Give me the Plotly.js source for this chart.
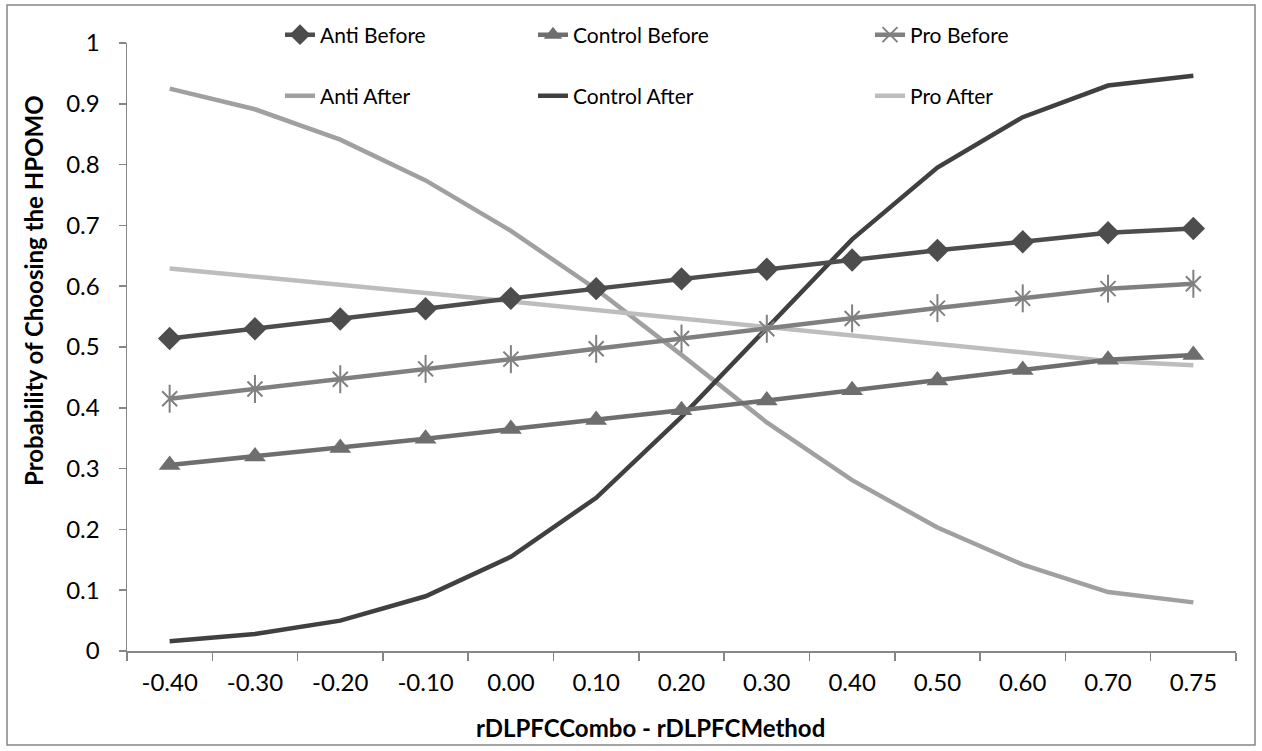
<!DOCTYPE html>
<html>
<head>
<meta charset="utf-8">
<script src="https://cdn.plot.ly/plotly-3.0.1.min.js"></script>
<style>html,body{margin:0;padding:0;background:#fff;}#chart{width:1262px;height:751px;}</style>
</head>
<body>
<div id="chart"></div>
<script>
const categories = ['-0.40','-0.30','-0.20','-0.10','0.00','0.10','0.20','0.30','0.40','0.50','0.60','0.70','0.75'];
const antiBefore    = [0.514,0.530,0.546,0.563,0.580,0.596,0.612,0.628,0.643,0.659,0.673,0.688,0.695];
const controlBefore = [0.306,0.320,0.334,0.349,0.365,0.380,0.396,0.412,0.429,0.445,0.462,0.479,0.487];
const proBefore     = [0.415,0.431,0.447,0.464,0.480,0.497,0.514,0.530,0.547,0.564,0.580,0.596,0.604];
const antiAfter     = [0.925,0.891,0.841,0.774,0.691,0.595,0.487,0.376,0.281,0.203,0.142,0.097,0.080];
const controlAfter  = [0.016,0.028,0.050,0.090,0.155,0.252,0.385,0.530,0.677,0.795,0.878,0.930,0.946];
const proAfter      = [0.629,0.616,0.603,0.589,0.575,0.561,0.547,0.533,0.519,0.505,0.491,0.477,0.470];
const seriesNames = ['Anti Before','Control Before','Pro Before','Anti After','Control After','Pro After'];
const xTitle = 'rDLPFCCombo - rDLPFCMethod';
const yTitle = 'Probability of Choosing the HPOMO';

const FONT = 'Lato, "Open Sans", sans-serif';
const traces = [
  {x: categories, y: antiAfter, name: seriesNames[3], mode: 'lines', line: {color: '#a0a0a0', width: 4.5}, legend: 'legend4'},
  {x: categories, y: controlAfter, name: seriesNames[4], mode: 'lines', line: {color: '#404040', width: 4.5}, legend: 'legend5'},
  {x: categories, y: proAfter, name: seriesNames[5], mode: 'lines', line: {color: '#bdbdbd', width: 4.5}, legend: 'legend6'},
  {x: categories, y: controlBefore, name: seriesNames[1], mode: 'lines+markers', line: {color: '#6e6e6e', width: 4.5},
   marker: {symbol: 'triangle-up', size: 19, color: '#6e6e6e'}, legend: 'legend2'},
  {x: categories, y: proBefore, name: seriesNames[2], mode: 'lines+markers', line: {color: '#808080', width: 4.5},
   marker: {symbol: 'x-thin-open', size: 15, color: '#808080', line: {color: '#808080', width: 2}}, legend: 'legend3'},
  {x: categories, y: proBefore, name: seriesNames[2], mode: 'markers', showlegend: false, hoverinfo: 'skip',
   marker: {symbol: 'line-ns-open', size: 20, color: '#808080', line: {color: '#808080', width: 2}}},
  {x: categories, y: antiBefore, name: seriesNames[0], mode: 'lines+markers', line: {color: '#4d4d4d', width: 4.5},
   marker: {symbol: 'diamond', size: 18, color: '#4d4d4d'}, legend: 'legend'}
];

const L = 127, W = 1109, T = 43, H = 608;
function lx(px){ return (px - L) / W; }
function ly(py){ return (T + H - py) / H; }
function leg(px, py){
  return {x: lx(px), y: ly(py), xanchor: 'left', yanchor: 'middle', orientation: 'h',
          bgcolor: 'rgba(0,0,0,0)', font: {family: FONT, size: 21, color: '#000'}, itemwidth: 30};
}

const layout = {
  width: 1262, height: 751,
  margin: {l: L, r: 1262 - L - W, t: T, b: 751 - T - H},
  paper_bgcolor: '#fff', plot_bgcolor: '#fff',
  font: {family: FONT, size: 21, color: '#000'},
  showlegend: true,
  legend: leg(280, 35), legend2: leg(533, 35), legend3: leg(870, 35),
  legend4: leg(280, 96), legend5: leg(533, 96), legend6: leg(870, 96),
  xaxis: {
    type: 'category', categoryorder: 'array', categoryarray: categories, range: [-0.5, 12.5],
    showline: true, linecolor: '#868686', linewidth: 1.5,
    ticks: 'outside', ticklen: 8, tickcolor: '#868686', tickwidth: 1.5, tickson: 'boundaries',
    ticklabelstandoff: 10,
    showgrid: false, zeroline: false,
    tickfont: {family: FONT, size: 24, color: '#000'}
  },
  yaxis: {
    range: [0, 1], dtick: 0.1, tick0: 0,
    showline: true, linecolor: '#868686', linewidth: 1.5,
    ticks: 'outside', ticklen: 7, tickcolor: '#868686', tickwidth: 1.5,
    ticklabelstandoff: 14,
    showgrid: false, zeroline: false,
    tickfont: {family: FONT, size: 24, color: '#000'}
  },
  annotations: [
    {text: '<b>' + xTitle + '</b>', xref: 'paper', yref: 'paper', x: lx(650), y: ly(727),
     xanchor: 'center', yanchor: 'middle', showarrow: false, font: {family: FONT, size: 24, color: '#000'}},
    {text: '<b>' + yTitle + '</b>', xref: 'paper', yref: 'paper', x: lx(33), y: ly(291), textangle: -90,
     xanchor: 'center', yanchor: 'middle', showarrow: false, font: {family: FONT, size: 24, color: '#000'}}
  ],
  shapes: [{type: 'rect', xref: 'paper', yref: 'paper',
    x0: lx(7), x1: lx(1255), y0: ly(745), y1: ly(5),
    line: {color: '#868686', width: 1.5}, fillcolor: 'rgba(0,0,0,0)', layer: 'below'}]
};

Plotly.newPlot('chart', traces, layout, {displayModeBar: false, staticPlot: true});
</script>
</body>
</html>
